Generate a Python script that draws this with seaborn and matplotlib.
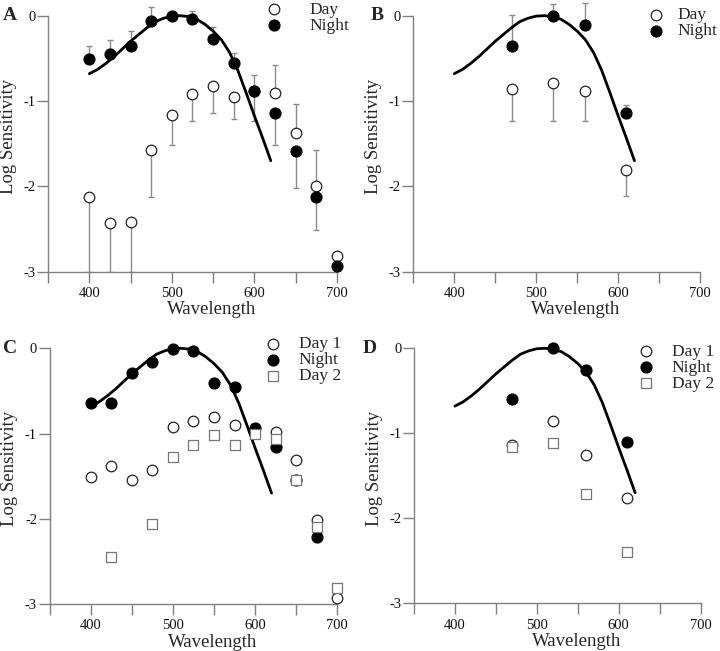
"""Log sensitivity vs wavelength, day / night, four panels."""
import numpy as np
import pandas as pd
import matplotlib
matplotlib.use("Agg")
import matplotlib.pyplot as plt
import matplotlib.transforms as mtransforms
import seaborn as sns

# ---- values ----
# panel A
wl_a        = [400, 425, 450, 475, 500, 525, 550, 575, 600, 625, 650, 675, 700]
night_a     = [-0.51, -0.45, -0.35, -0.06, 0.00, -0.04, -0.27, -0.56, -0.88, -1.14, -1.59, -2.13, -2.94]
night_a_end = [-0.36, -0.28, -0.18, 0.10, np.nan, 0.06, -0.13, -0.44, -0.69, -1.52, -2.02, -2.51, np.nan]
day_a       = [-2.12, -2.43, -2.42, -1.58, -1.16, -0.92, -0.82, -0.95, -0.88, -0.91, -1.37, -2.00, -2.82]
day_a_end   = [-3.0, -3.0, -3.0, -2.13, -1.52, -1.23, -1.14, -1.21, -1.24, -0.58, -1.04, -1.57, np.nan]

# panel B
wl_b        = [470, 520, 560, 610]
night_b     = [-0.36, 0.00, -0.11, -1.14]
night_b_end = [0.01, 0.14, 0.15, -1.05]
day_b       = [-0.86, -0.79, -0.88, -1.81]
day_b_end   = [-1.23, -1.23, -1.23, -2.11]

# panel C
wl_c    = [400, 425, 450, 475, 500, 525, 550, 575, 600, 625, 650, 675, 700]
night_c = [-0.64, -0.64, -0.29, -0.16, -0.01, -0.03, -0.41, -0.46, -0.94, -1.16, -1.55, -2.22, np.nan]
day1_c  = [-1.51, -1.38, -1.54, -1.43, -0.92, -0.85, -0.81, -0.90, np.nan, -0.98, -1.31, -2.01, -2.93]
day2_c  = [np.nan, -2.45, np.nan, -2.06, -1.28, -1.14, -1.02, -1.14, -1.01, -1.06, -1.55, -2.10, -2.81]

# panel D
wl_d    = [470, 520, 560, 610]
night_d = [-0.60, 0.00, -0.25, -1.10]
day1_d  = [-1.14, -0.85, -1.25, -1.76]
day2_d  = [-1.16, -1.11, -1.71, -2.40]

# fitted pigment curve (same in every panel)
curve_wl  = [400, 410, 420, 430, 440, 450, 460, 470, 480, 490, 500, 510,
             520, 530, 540, 550, 560, 570, 580, 590, 600, 610, 620]
curve_val = [-0.68, -0.63, -0.56, -0.48, -0.39, -0.30, -0.22, -0.14, -0.07, -0.03, -0.005, 0.0,
             -0.01, -0.04, -0.10, -0.18, -0.28, -0.43, -0.64, -0.90, -1.17, -1.43, -1.70]

sns.set_style("ticks")
plt.rcParams["font.family"] = ["Liberation Serif", "DejaVu Serif"]
plt.rcParams["axes.unicode_minus"] = False

W, H = 720, 651
fig = plt.figure(figsize=(W / 100, H / 100), dpi=100)

XLIM = (350, 720)
YLIM = (-3.0, 0.18)
AX_GRAY = "#808080"
ERR_GRAY = "#8a8a8a"

OPEN = dict(marker="o", facecolor="white", edgecolor="#222222", linewidth=0.9, s=58)
FILL = dict(marker="o", facecolor="black", edgecolor="black", linewidth=0.9, s=62)
SQR = dict(marker="s", facecolor="white", edgecolor="#777777", linewidth=0.9, s=58)


def make_axes(x350_px, y0_px, sx, sy):
    # place axes so that data -> pixel mapping matches the reference
    width = (XLIM[1] - XLIM[0]) * sx
    top = y0_px - YLIM[1] * sy
    height = (YLIM[1] - YLIM[0]) * sy
    return fig.add_axes([x350_px / W, 1 - (top + height) / H, width / W, height / H])


def style_axes(ax, letter, letter_x_px):
    ax.set_xlim(*XLIM)
    ax.set_ylim(*YLIM)
    ax.set_xticks(range(350, 701, 50))
    ax.set_xticklabels(["" if t % 100 else str(t) for t in range(350, 701, 50)])
    ax.set_yticks([-3, -2, -1, 0])
    ax.set_yticklabels(["-3", "-2", "-1", "0"])
    sns.despine(ax=ax, trim=True)
    for s in ("left", "bottom"):
        ax.spines[s].set_color(AX_GRAY)
        ax.spines[s].set_linewidth(1.0)
    ax.tick_params(axis="both", direction="out", length=8, width=1.0, color=AX_GRAY,
                   labelsize=10.5, labelcolor="#111111", bottom=True, left=True)
    ax.tick_params(axis="x", pad=3)
    ax.tick_params(axis="y", pad=1)
    ax.set_xlabel("Wavelength", fontsize=13.5)
    ax.set_ylabel("Log Sensitivity", fontsize=13.5)
    ax.xaxis.set_label_coords(0.535, -0.11)
    ax.yaxis.set_label_coords(-0.103, 0.5)
    # panel letter, level with the 0 tick
    trans = mtransforms.blended_transform_factory(fig.transFigure, ax.transData)
    ax.text(letter_x_px / W, 0.0, letter, transform=trans, fontsize=14,
            fontweight="bold", ha="left", va="center")


def draw_curve(ax):
    df = pd.DataFrame({"wl": curve_wl, "val": curve_val})
    sns.lineplot(data=df, x="wl", y="val", ax=ax, color="black", linewidth=2.0,
                 sort=False, zorder=3)


def draw_errors(ax, wl, vals, ends):
    vals = np.asarray(vals, float)
    ends = np.asarray(ends, float)
    ok = ~np.isnan(ends)
    lower = np.where(ends < vals, vals - ends, 0)[ok]
    upper = np.where(ends > vals, ends - vals, 0)[ok]
    ax.errorbar(np.asarray(wl)[ok], vals[ok], yerr=[lower, upper], fmt="none",
                ecolor=ERR_GRAY, elinewidth=1.0, capsize=2.2, capthick=1.0, zorder=2)


def draw_points(ax, wl, vals, style, label):
    df = pd.DataFrame({"wl": wl, "val": vals}).dropna()
    sns.scatterplot(data=df, x="wl", y="val", ax=ax, label=label, clip_on=False,
                    zorder=4, **style)


def add_legend(ax, x_px, y_px, textpad):
    ax.legend(loc="upper left", bbox_to_anchor=(x_px / W, 1 - y_px / H),
              bbox_transform=fig.transFigure, frameon=False, fontsize=12.5,
              handlelength=1.0, handletextpad=textpad, labelspacing=0.0,
              borderpad=0, borderaxespad=0)


# ---- panel A ----
ax = make_axes(48.1, 15.7, 0.8247, 85.3)
draw_curve(ax)
draw_errors(ax, wl_a, day_a, day_a_end)
draw_errors(ax, wl_a, night_a, night_a_end)
draw_points(ax, wl_a, day_a, OPEN, "Day")
draw_points(ax, wl_a, night_a, FILL, "Night")
style_axes(ax, "A", 3)
add_legend(ax, 265, 1.5, 1.55)

# ---- panel B ----
ax = make_axes(413.3, 15.7, 0.819, 85.3)
draw_curve(ax)
draw_errors(ax, wl_b, day_b, day_b_end)
draw_errors(ax, wl_b, night_b, night_b_end)
draw_points(ax, wl_b, day_b, OPEN, "Day")
draw_points(ax, wl_b, night_b, FILL, "Night")
style_axes(ax, "B", 371)
add_legend(ax, 647, 7, 0.75)

# ---- panel C ----
ax = make_axes(49.6, 348.3, 0.822, 85.2)
draw_curve(ax)
draw_points(ax, wl_c, day1_c, OPEN, "Day 1")
draw_points(ax, wl_c, night_c, FILL, "Night")
draw_points(ax, wl_c, day2_c, SQR, "Day 2")
style_axes(ax, "C", 3)
add_legend(ax, 264, 336, 1.0)

# ---- panel D ----
ax = make_axes(414.0, 348.3, 0.819, 85.0)
draw_curve(ax)
draw_points(ax, wl_d, day1_d, OPEN, "Day 1")
draw_points(ax, wl_d, night_d, FILL, "Night")
draw_points(ax, wl_d, day2_d, SQR, "Day 2")
style_axes(ax, "D", 363)
add_legend(ax, 637, 343.5, 1.0)

fig.savefig("out.png", dpi=100)
